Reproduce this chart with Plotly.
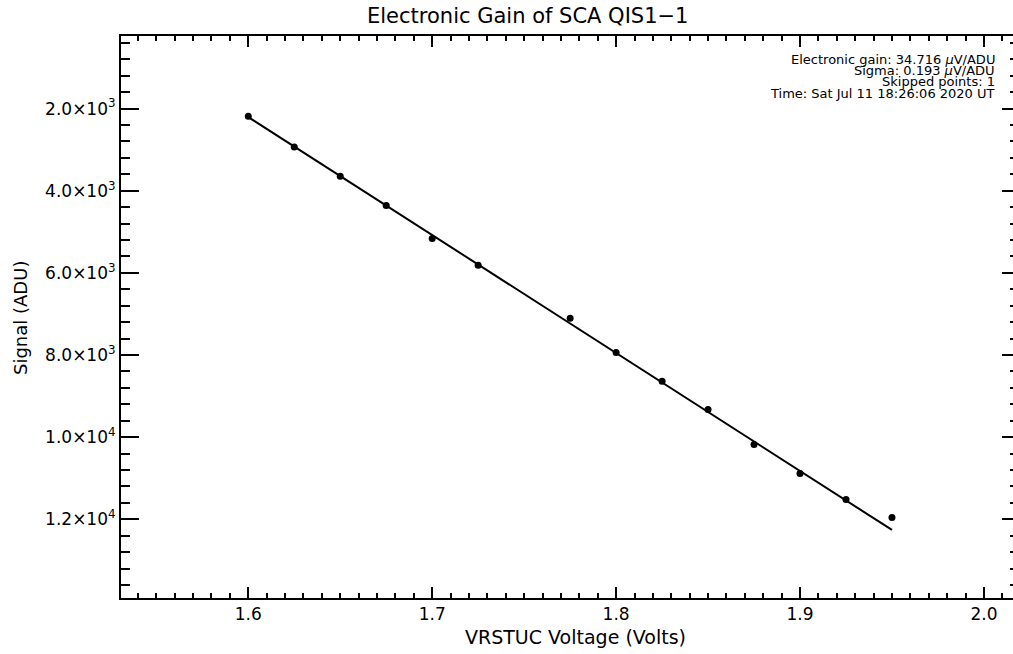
import numpy as np
import plotly.graph_objects as go

# ---- data ----
voltage = [1.600, 1.625, 1.650, 1.675, 1.700, 1.725, 1.775, 1.800,
           1.825, 1.850, 1.875, 1.900, 1.925, 1.950]
signal = [2187, 2935, 3648, 4362, 5165, 5815, 7106, 7941,
          8640, 9329, 10181, 10887, 11520, 11958]
n_skipped = 1  # last point excluded from the fit

y_tickvals = [2000, 4000, 6000, 8000, 10000, 12000]
y_ticktext = ["2.0×10<sup>3</sup>", "4.0×10<sup>3</sup>", "6.0×10<sup>3</sup>",
              "8.0×10<sup>3</sup>", "1.0×10<sup>4</sup>", "1.2×10<sup>4</sup>"]
x_tickvals = [1.6, 1.7, 1.8, 1.9, 2.0]
x_ticktext = ["1.6", "1.7", "1.8", "1.9", "2.0"]

info_lines = [
    "Electronic gain: 34.716 <i>μ</i>V/ADU",
    "Sigma: 0.193 <i>μ</i>V/ADU",
    "Skipped points: 1",
    "Time: Sat Jul 11 18:26:06 2020 UT",
]

x_range = [1.5308, 2.0158]
y_range = [13916, 232]

# ---- linear fit over the non-skipped points ----
fx = np.array(voltage[:len(voltage) - n_skipped])
fy = np.array(signal[:len(signal) - n_skipped])
k, b = np.polyfit(fx, fy, 1)
fit_x = [voltage[0], voltage[-1]]
fit_y = [k * v + b for v in fit_x]

FONT = "DejaVu Sans"
L, T, W, H = 121, 36, 892, 562  # plot area in pixels


def px(x):
    return (x - L) / W


def py(y):
    return 1 - (y - T) / H


fig = go.Figure()
fig.add_trace(go.Scatter(x=fit_x, y=fit_y, mode="lines",
                         line=dict(color="black", width=2), showlegend=False))
fig.add_trace(go.Scatter(x=voltage, y=signal, mode="markers",
                         marker=dict(color="black", size=7), showlegend=False))
# invisible trace for the right-hand tick axis
fig.add_trace(go.Scatter(x=[voltage[0]], y=[signal[0]], yaxis="y2", mode="markers",
                         marker=dict(opacity=0), showlegend=False, hoverinfo="skip"))

fig.update_layout(
    width=1013, height=654,
    margin=dict(l=L, r=1013 - L - W, t=T, b=654 - T - H),
    paper_bgcolor="white", plot_bgcolor="white",
    font=dict(family=FONT, color="black", size=16),
    xaxis=dict(
        range=x_range, showgrid=False, zeroline=False,
        showline=True, linecolor="black", linewidth=2, mirror="ticks",
        ticks="inside", ticklen=11, tickwidth=2, tickcolor="black",
        tickmode="array", tickvals=x_tickvals, ticktext=x_ticktext,
        tickfont=dict(size=17, family=FONT),
        minor=dict(ticks="inside", ticklen=5, tickwidth=2, tickcolor="black",
                   dtick=0.01, tick0=1.6, showgrid=False),
    ),
    yaxis=dict(
        range=y_range, showgrid=False, zeroline=False,
        showline=True, linecolor="black", linewidth=2, mirror=False,
        ticks="inside", ticklen=18, tickwidth=2, tickcolor="black",
        tickmode="array", tickvals=y_tickvals, ticktext=y_ticktext,
        tickfont=dict(size=17, family=FONT),
        minor=dict(ticks="inside", ticklen=9, tickwidth=2, tickcolor="black",
                   tickmode="linear", dtick=400, tick0=0, showgrid=False),
    ),
    yaxis2=dict(
        range=y_range, overlaying="y", side="right", anchor="x",
        showgrid=False, zeroline=False, showline=False, showticklabels=False,
        ticks="inside", ticklen=11, tickwidth=2, tickcolor="black",
        tickmode="array", tickvals=y_tickvals,
        minor=dict(ticks="inside", ticklen=3, tickwidth=2, tickcolor="black",
                   tickmode="linear", dtick=400, tick0=0, showgrid=False),
    ),
    showlegend=False,
)

fig.add_annotation(text="Electronic Gain of SCA QIS1−1", xref="paper", yref="paper",
                   x=px(527), y=py(16), showarrow=False,
                   xanchor="center", yanchor="middle",
                   font=dict(size=21, family=FONT))
fig.add_annotation(text="VRSTUC Voltage (Volts)", xref="paper", yref="paper",
                   x=px(575), y=py(637), showarrow=False,
                   xanchor="center", yanchor="middle",
                   font=dict(size=19, family=FONT))
fig.add_annotation(text="Signal (ADU)", xref="paper", yref="paper",
                   x=px(20), y=py(318), showarrow=False, textangle=-90,
                   xanchor="center", yanchor="middle",
                   font=dict(size=18, family=FONT))

line_y = [59, 70.5, 82, 93.5]
for txt, yy in zip(info_lines, line_y):
    fig.add_annotation(text=txt, xref="paper", yref="paper",
                       x=px(997), y=py(yy),
                       showarrow=False, xanchor="right", yanchor="middle",
                       font=dict(size=13, family=FONT))

fig.write_html("out.html")
